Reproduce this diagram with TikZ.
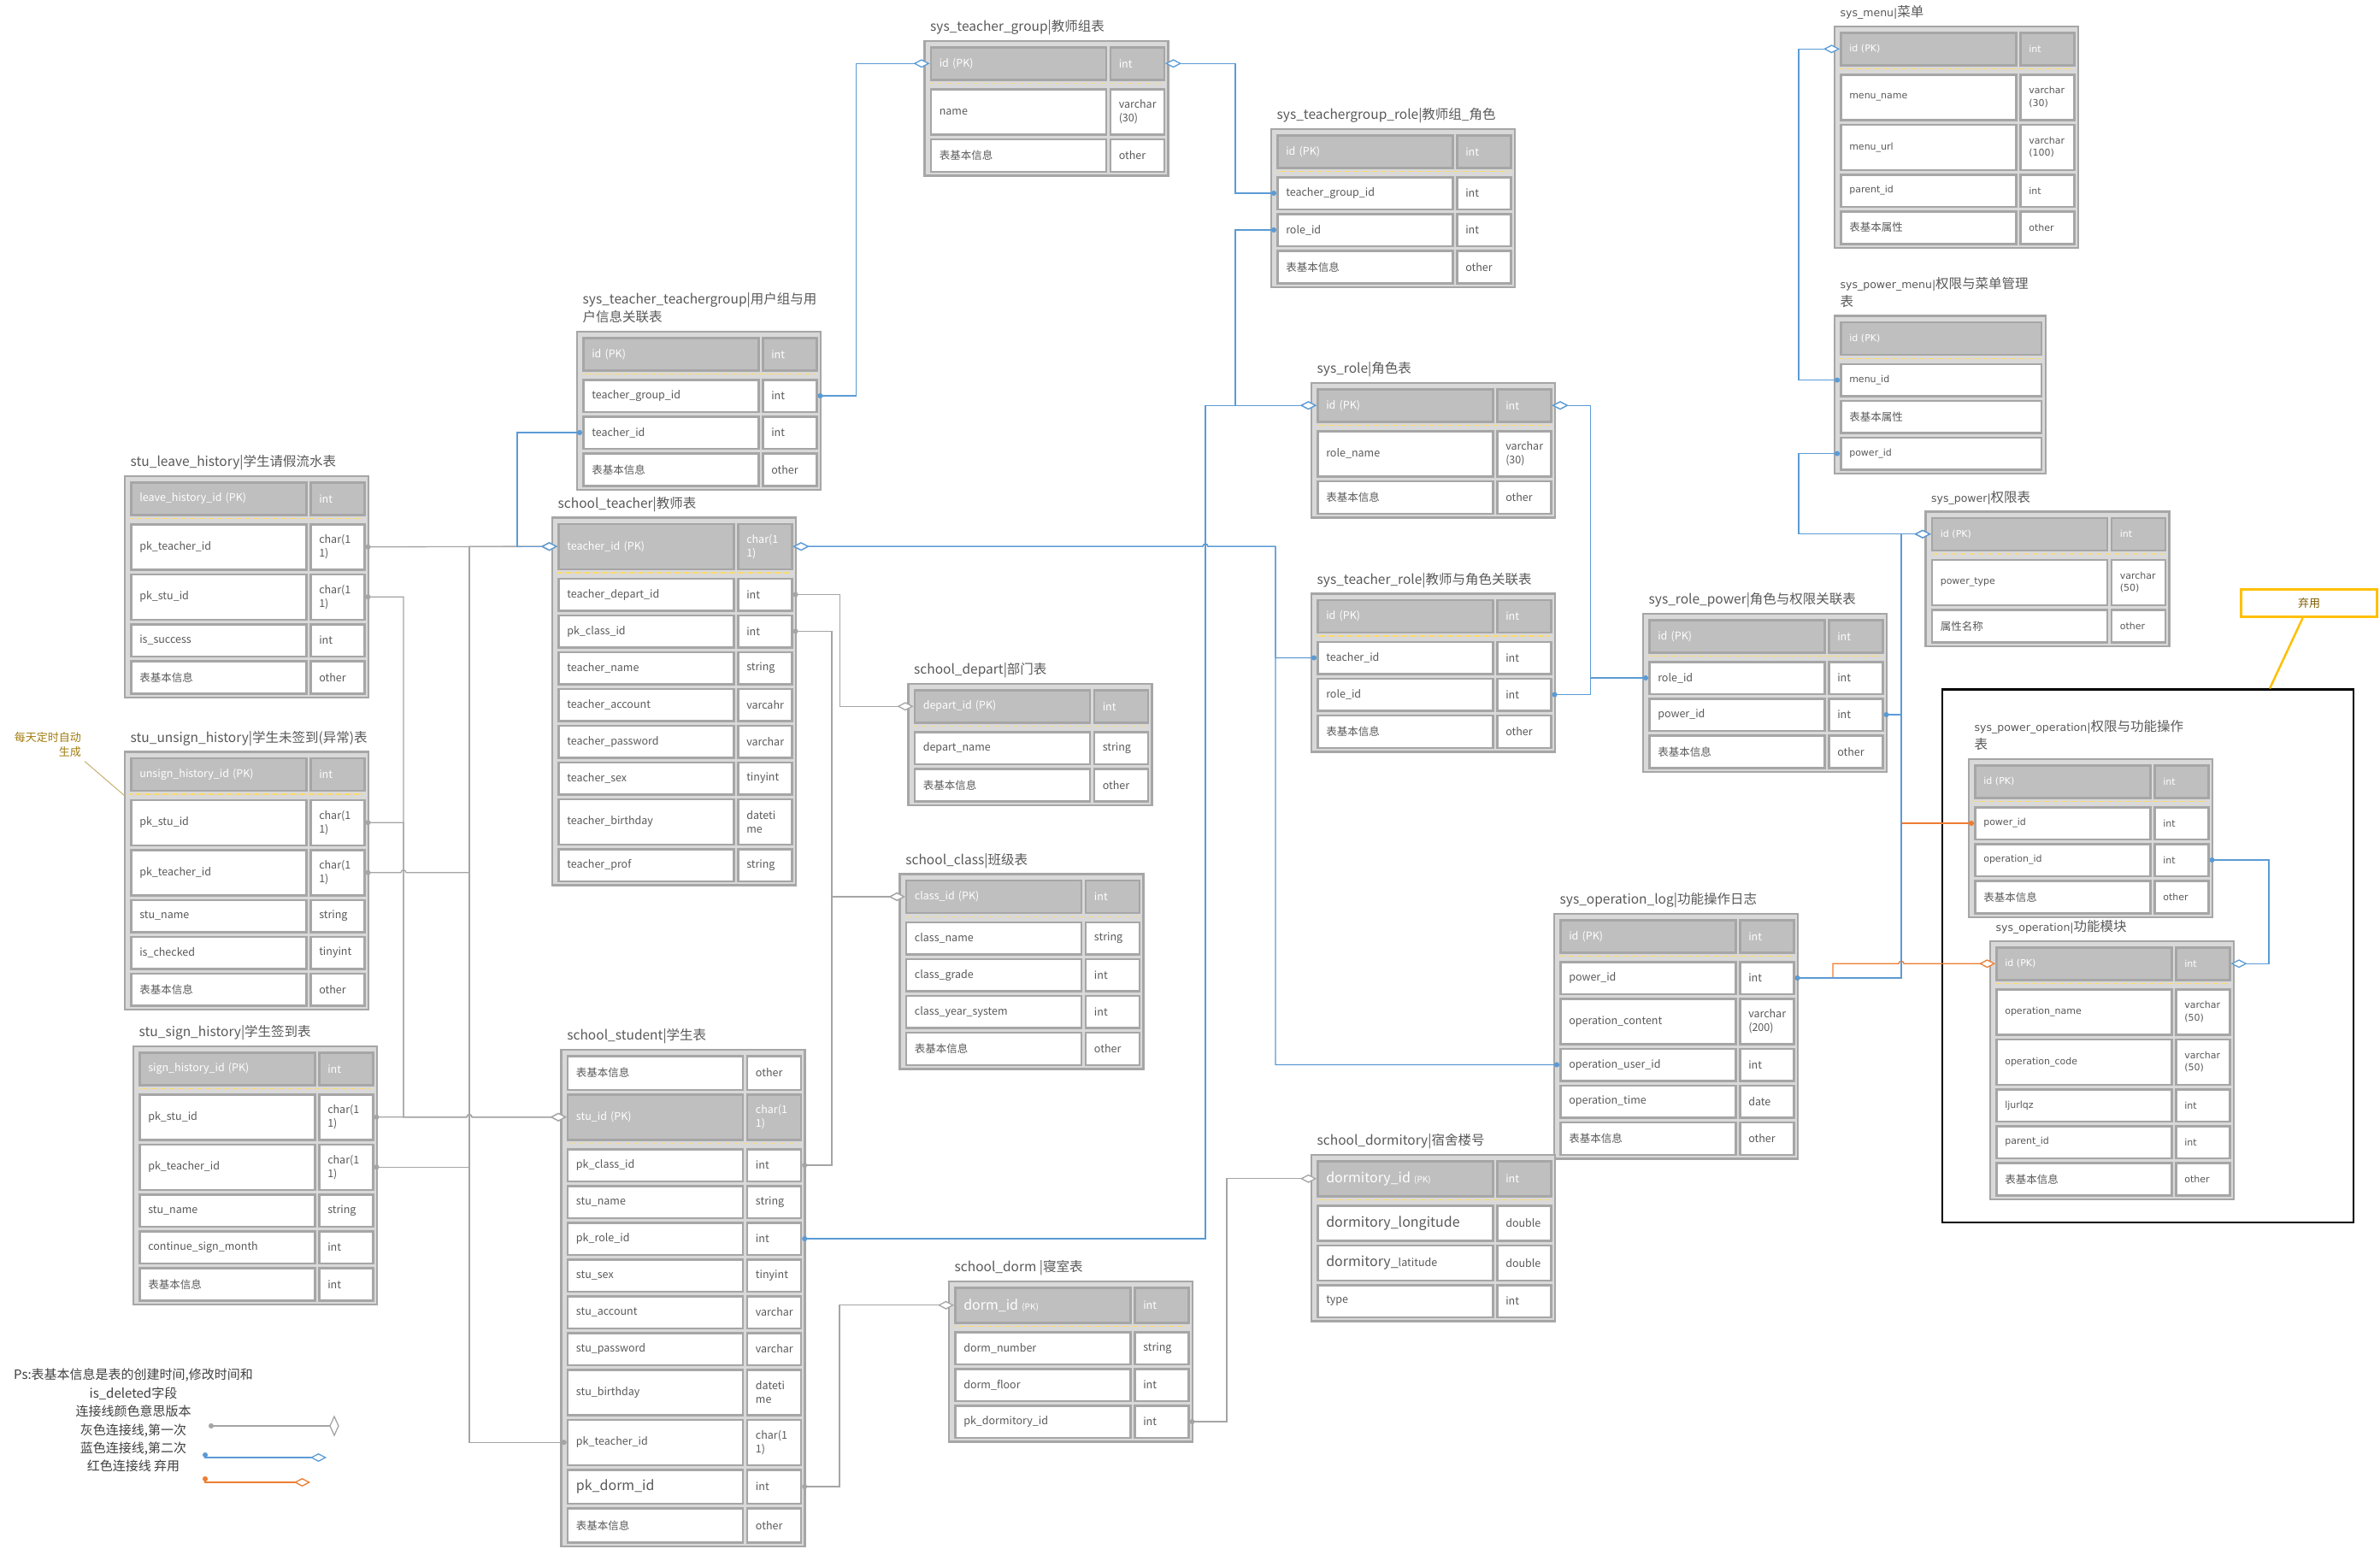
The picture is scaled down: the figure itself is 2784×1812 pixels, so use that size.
\documentclass[tikz,border=0pt]{standalone}
\usepackage{fontspec}
\setmainfont{Noto Sans CJK SC}
\newfontfamily\cjk{Noto Sans CJK SC}
\newfontfamily\wfont{DejaVu Sans}
\usetikzlibrary{arrows.meta,positioning,calc,backgrounds}

\definecolor{cellgray}{HTML}{A6A6A6}
\definecolor{boxfill}{HTML}{D9D9D9}
\definecolor{headfill}{HTML}{BFBFBF}
\definecolor{txtgray}{HTML}{595959}
\definecolor{legendgray}{HTML}{404040}
\definecolor{dotyellow}{HTML}{FFD966}
\definecolor{linkgray}{HTML}{A5A5A5}
\definecolor{linkblue}{HTML}{5B9BD5}
\definecolor{linkorange}{HTML}{ED7D31}
\definecolor{boxyellow}{HTML}{FFC000}
\definecolor{goldtext}{HTML}{7F6000}
\definecolor{notegold}{HTML}{A07C10}

% latin in the wide (second) font, chinese back in the cjk font
\newcommand{\wl}[1]{{\wfont\fontsize{12.5pt}{21pt}\selectfont #1}}
\newcommand{\zh}[1]{{\cjk\fontsize{12.5pt}{16pt}\selectfont #1}}
\newcommand{\bigtxt}[1]{{\fontsize{16pt}{18pt}\selectfont #1}}
\newcommand{\pktxt}[1]{{\fontsize{10pt}{12pt}\selectfont #1}}

\tikzset{
  fkdot/.tip={Circle[length=6pt]},
  pkdia/.tip={Diamond[length=19pt,width=10pt,fill=white]},
  tablebox/.style={draw=cellgray, line width=2.5pt, fill=boxfill},
  tabletitle/.style={anchor=south west, inner sep=0pt, text depth=0pt, align=left, text=txtgray, font=\fontsize{15.5pt}{21pt}\selectfont},
  plainrow/.style={rectangle, anchor=north west, draw=cellgray, line width=2.5pt, fill=white, text=txtgray, align=left, inner xsep=10pt, inner ysep=0pt},
  keyrow/.style={plainrow, fill=headfill, text=white},
  narrowtext/.style={font=\fontsize{12.5pt}{16pt}\selectfont},
  widetext/.style={font=\wfont\fontsize{11pt}{14.5pt}\selectfont},
  keyline/.style={draw=dotyellow, line width=1.2pt, dash pattern=on 1.5pt off 1.5pt},
  link/.style={line width=1.3pt},
  graylink/.style={link, draw=linkgray},
  bluelink/.style={link, draw=linkblue},
  redlink/.style={link, draw=linkorange},
  notetext/.style={anchor=north east, align=right, inner sep=0pt, text=notegold, font=\fontsize{13pt}{17pt}\selectfont},
  legendtext/.style={anchor=north, align=center, inner sep=0pt, text=legendgray, font=\fontsize{15pt}{21.4pt}\selectfont}
}

% #1 name, #2 top left corner, #3 title, #4 text style, #5 key row, #6 rows field/type/height
\newcommand{\ertable}[6]{%
  \begin{scope}[shift={#2}]
    \node[tabletitle] (#1-title) at (6.5,-11) {#3};
    \gdef\rowy{6}
    \foreach \f/\t/\h [count=\i] in {#6} {
      \ifnum\i=#5 \def\rowstyle{keyrow}\else\def\rowstyle{plainrow}\fi
      \node[\rowstyle, #4, text width=185pt, minimum height=\h] (#1-n\i) at (6,\rowy) {\f};
      \node[\rowstyle, #4, text width=43pt, minimum height=\h] (#1-t\i) at (216,\rowy) {\t};
      \ifnum\i=#5
        \draw[keyline] (6,\rowy+\h+5.5) -- (279,\rowy+\h+5.5);
        \pgfmathsetmacro\nexty{\rowy+\h+11}
      \else
        \pgfmathsetmacro\nexty{\rowy+\h+5.5}
      \fi
      \xdef\rowy{\nexty}
    }
    \begin{pgfonlayer}{background}
      \draw[tablebox] (0,0) rectangle (285,\rowy+0.5);
    \end{pgfonlayer}
  \end{scope}}

\begin{document}
\begin{tikzpicture}[x=1pt, y=-1pt]
\begin{pgfonlayer}{background}
  \fill[white] (0,0) rectangle (2784,1812);
\end{pgfonlayer}
\useasboundingbox (0,0) rectangle (2784,1812);

% student side
\ertable{leave}{(146,557)}{stu\_leave\_history|学生请假流水表}{narrowtext}{1}{
  leave\_history\_id (PK)/int/38,
  pk\_teacher\_id/char(1\\1)/53,
  pk\_stu\_id/char(1\\1)/53,
  is\_success/int/37.5,
  表基本信息/other/38}
\ertable{unsign}{(146,879.5)}{stu\_unsign\_history|学生未签到(异常)表}{narrowtext}{1}{
  unsign\_history\_id (PK)/int/38,
  pk\_stu\_id/char(1\\1)/53,
  pk\_teacher\_id/char(1\\1)/53,
  stu\_name/string/37.5,
  is\_checked/tinyint/37.5,
  表基本信息/other/37.5}
\ertable{sign}{(156,1224)}{stu\_sign\_history|学生签到表}{narrowtext}{1}{
  sign\_history\_id (PK)/int/38,
  pk\_stu\_id/char(1\\1)/53,
  pk\_teacher\_id/char(1\\1)/53,
  stu\_name/string/37.5,
  continue\_sign\_month/int/37.5,
  表基本信息/int/38}
\ertable{student}{(656.7,1228)}{school\_student|学生表}{narrowtext}{2}{
  表基本信息/other/39.5,
  stu\_id (PK)/char(1\\1)/53,
  pk\_class\_id/int/37.5,
  stu\_name/string/37.5,
  pk\_role\_id/int/37.5,
  stu\_sex/tinyint/37.5,
  stu\_account/varchar/37.5,
  stu\_password/varchar/37.5,
  stu\_birthday/dateti\\me/53,
  pk\_teacher\_id/char(1\\1)/53,
  \bigtxt{pk\_dorm\_id}/int/39.5,
  表基本信息/other/40}

% teacher side
\ertable{ttg}{(675,388)}{sys\_teacher\_teachergroup|用户组与用\\户信息关联表}{narrowtext}{1}{
  id (PK)/int/38,
  teacher\_group\_id/int/37.5,
  teacher\_id/int/37.5,
  表基本信息/other/38}
\ertable{teacher}{(646,605.5)}{school\_teacher|教师表}{narrowtext}{1}{
  teacher\_id (PK)/char(1\\1)/53,
  teacher\_depart\_id/int/37.5,
  pk\_class\_id/int/37.5,
  teacher\_name/string/37.5,
  teacher\_account/varcahr/37.5,
  teacher\_password/varchar/37.5,
  teacher\_sex/tinyint/37.5,
  teacher\_birthday/dateti\\me/53,
  teacher\_prof/string/37.5}
\ertable{tgroup}{(1081.5,48)}{sys\_teacher\_group|教师组表}{narrowtext}{1}{
  id (PK)/int/38,
  name/varchar\\(30)/53,
  表基本信息/other/38}
\ertable{tgrole}{(1487,151)}{sys\_teachergroup\_role|教师组\_角色}{narrowtext}{1}{
  id (PK)/int/38,
  teacher\_group\_id/int/37.5,
  role\_id/int/37.5,
  表基本信息/other/38}
\ertable{depart}{(1062.5,800)}{school\_depart|部门表}{narrowtext}{1}{
  depart\_id (PK)/int/38,
  depart\_name/string/37.5,
  表基本信息/other/38}
\ertable{class}{(1052.7,1022.7)}{school\_class|班级表}{narrowtext}{1}{
  class\_id (PK)/int/38,
  class\_name/string/37.5,
  class\_grade/int/37.5,
  class\_year\_system/int/37.5,
  表基本信息/other/38}
\ertable{dorm}{(1110,1499)}{school\_dorm |寝室表}{narrowtext}{1}{
  \bigtxt{dorm\_id} \pktxt{(PK)}/int/41,
  dorm\_number/string/37.5,
  dorm\_floor/int/37.5,
  pk\_dormitory\_id/int/37.5}

% role side
\ertable{role}{(1534,448)}{sys\_role|角色表}{narrowtext}{1}{
  id (PK)/int/38,
  role\_name/varchar\\(30)/53,
  表基本信息/other/38}
\ertable{trole}{(1534,694.5)}{sys\_teacher\_role|教师与角色关联表}{narrowtext}{1}{
  id (PK)/int/38,
  teacher\_id/int/37.5,
  role\_id/int/37.5,
  表基本信息/other/38}
\ertable{rpower}{(1922,718)}{sys\_role\_power|角色与权限关联表}{narrowtext}{1}{
  id (PK)/int/38,
  role\_id/int/37.5,
  power\_id/int/37.5,
  表基本信息/other/38}
\ertable{oplog}{(1818,1069)}{sys\_operation\_log|功能操作日志}{narrowtext}{1}{
  id (PK)/int/38,
  power\_id/int/37.5,
  operation\_content/varchar\\(200)/53,
  operation\_user\_id/int/37.5,
  operation\_time/date/37.5,
  表基本信息/other/38}
\ertable{dormitory}{(1534,1351)}{school\_dormitory|宿舍楼号}{narrowtext}{1}{
  \bigtxt{dormitory\_id} \pktxt{(PK)}/int/41,
  \bigtxt{dormitory\_longitude}/double/41,
  \bigtxt{dormitory\_}latitude/double/41,
  type/int/37.5}

% menu and power side
\ertable{menu}{(2146,31)}{\wl{sys\_menu|}菜单}{widetext}{1}{
  id (PK)/int/38,
  menu\_name/varchar\\(30)/53,
  menu\_url/varchar\\(100)/53,
  parent\_id/int/37.5,
  \zh{表基本属性}/other/38}
\begin{scope}[shift={(2146,369.6)}]
  \node[tabletitle] (pmenu-title) at (6.5,-11) {\wl{sys\_power\_menu|}权限与菜单管理\\表};
  \node[keyrow, widetext, text width=214.5pt, minimum height=38] (pmenu-n1) at (6,6) {id (PK)};
  \draw[keyline] (6,49.5) -- (241,49.5);
  \foreach \f/\ry [count=\i from 2] in {menu\_id/55, \zh{表基本属性}/98, power\_id/141}
    \node[plainrow, widetext, text width=214.5pt, minimum height=37.5] (pmenu-n\i) at (6,\ry) {\f};
  \begin{pgfonlayer}{background}
    \draw[tablebox] (0,0) rectangle (247,184.5);
  \end{pgfonlayer}
\end{scope}
\ertable{power}{(2252.5,598.5)}{\wl{sys\_power|}权限表}{widetext}{1}{
  id (PK)/int/38,
  power\_type/varchar\\(50)/53,
  \zh{属性名称}/other/38}
\ertable{pop}{(2303,888)}{\wl{sys\_power\_operation|}权限与功能操作\\表}{widetext}{1}{
  id (PK)/int/38,
  power\_id/int/37.5,
  operation\_id/int/37.5,
  \zh{表基本信息}/other/38}
\ertable{oper}{(2328,1101)}{\wl{sys\_operation|}功能模块}{widetext}{1}{
  id (PK)/int/38,
  operation\_name/varchar\\(50)/53,
  operation\_code/varchar\\(50)/53,
  ljurlqz/int/37.5,
  parent\_id/int/37.5,
  \zh{表基本信息}/other/38}

% abandoned part
\node[draw=black, line width=2.2pt, minimum width=481, minimum height=623.6, anchor=north west, inner sep=0pt] (deprecated) at (2271,805.4) {};
\node[draw=boxyellow, line width=3pt, minimum width=159, minimum height=32, text=goldtext, font=\fontsize{13pt}{15pt}\selectfont] (abandon) at (2701,705.5) {弃用};
\draw[boxyellow, line width=2.5pt] ($(abandon.south)+(-7.5,0)$) -- ($(deprecated.north west)+(384,0)$);

% trunk columns of the connectors
\coordinate (stuX) at (472,0);
\coordinate (teaX) at (549,0);
\coordinate (ttgX) at (605,0);
\coordinate (clsX) at (973,0);
\coordinate (dormX) at (982,0);
\coordinate (depX) at (982.5,0);
\coordinate (tgX) at (1001.5,0);
\coordinate (roleX) at (1410,0);
\coordinate (dtyX) at (1435,0);
\coordinate (tgrX) at (1445,0);
\coordinate (trX) at (1492,0);
\coordinate (rpX) at (1860.5,0);
\coordinate (menuX) at (2104,0);
\coordinate (orX) at (2144,0);
\coordinate (pwX) at (2224,0);
\coordinate (opX) at (2654,0);

% gray: first version
\draw[graylink, fkdot-pkdia] (leave-t2.east) -- (teacher-n1.west);
\draw[graylink, fkdot-pkdia] (unsign-t3.east) -- ($(stuX |- unsign-t3.east)+(-3,0)$) arc[start angle=180, end angle=0, radius=3pt] -| (teaX |- teacher-n1.west) -- (teacher-n1.west);
\draw[graylink, fkdot-pkdia] (sign-t3.east) -| (teaX |- teacher-n1.west) -- (teacher-n1.west);
\draw[graylink, fkdot-pkdia] (student-n10.west) -| (teaX |- teacher-n1.west) -- (teacher-n1.west);
\draw[graylink, fkdot-pkdia] (leave-t3.east) -| (stuX |- student-n2.west) -- ($(teaX |- student-n2.west)+(-3,0)$) arc[start angle=180, end angle=0, radius=3pt] -- (student-n2.west);
\draw[graylink, fkdot-pkdia] (unsign-t2.east) -| (stuX |- student-n2.west) -- ($(teaX |- student-n2.west)+(-3,0)$) arc[start angle=180, end angle=0, radius=3pt] -- (student-n2.west);
\draw[graylink, fkdot-pkdia] (sign-t2.east) -- ($(teaX |- student-n2.west)+(-3,0)$) arc[start angle=180, end angle=0, radius=3pt] -- (student-n2.west);
\draw[graylink, fkdot-pkdia] (teacher-t2.east) -| (depX |- depart-n1.west) -- (depart-n1.west);
\draw[graylink, fkdot-pkdia] (teacher-t3.east) -| (clsX |- class-n1.west) -- (class-n1.west);
\draw[graylink, fkdot-pkdia] (student-t3.east) -| (clsX |- class-n1.west) -- (class-n1.west);
\draw[graylink, fkdot-pkdia] (student-t11.east) -| (dormX |- dorm-n1.west) -- (dorm-n1.west);
\draw[graylink, fkdot-pkdia] (dorm-t4.east) -| (dtyX |- dormitory-n1.west) -- (dormitory-n1.west);

% orange: abandoned
\draw[redlink, fkdot-pkdia] (pop-n2.west) -| (pwX |- power-n1.west) -- (power-n1.west);
\draw[redlink, fkdot-pkdia] (oplog-t2.east) -- (orX |- oplog-t2.east) -- (orX |- oper-n1.west) -- ($(pwX |- oper-n1.west)+(-3,0)$) arc[start angle=180, end angle=0, radius=3pt] -- (oper-n1.west);

% blue: second version
\draw[bluelink, fkdot-pkdia] (ttg-n3.west) -| (ttgX |- teacher-n1.west) -- (teacher-n1.west);
\draw[bluelink, fkdot-pkdia] (ttg-t2.east) -| (tgX |- tgroup-n1.west) -- (tgroup-n1.west);
\draw[bluelink, fkdot-pkdia] (tgrole-n2.west) -| (tgrX |- tgroup-t1.east) -- (tgroup-t1.east);
\draw[bluelink, fkdot-pkdia] (tgrole-n3.west) -| (tgrX |- role-n1.west) -- (role-n1.west);
\draw[bluelink, fkdot-pkdia] (student-t5.east) -| (roleX |- role-n1.west) -- (role-n1.west);
\draw[bluelink, fkdot-pkdia] (trole-n2.west) -| (trX |- teacher-t1.east) -- ($(roleX |- teacher-t1.east)+(3,0)$) arc[start angle=0, end angle=180, radius=3pt] -- (teacher-t1.east);
\draw[bluelink, fkdot-pkdia] (oplog-n4.west) -| (trX |- teacher-t1.east) -- ($(roleX |- teacher-t1.east)+(3,0)$) arc[start angle=0, end angle=180, radius=3pt] -- (teacher-t1.east);
\draw[bluelink, fkdot-pkdia] (trole-t3.east) -| (rpX |- role-t1.east) -- (role-t1.east);
\draw[bluelink, fkdot-pkdia] (rpower-n2.west) -| (rpX |- role-t1.east) -- (role-t1.east);
\draw[bluelink, fkdot-pkdia] (rpower-t3.east) -| (pwX |- power-n1.west) -- (power-n1.west);
\draw[bluelink, fkdot-pkdia] (oplog-t2.east) -| (pwX |- power-n1.west) -- (power-n1.west);
\draw[bluelink, fkdot-pkdia] (pmenu-n2.west) -| (menuX |- menu-n1.west) -- (menu-n1.west);
\draw[bluelink, fkdot-pkdia] (pmenu-n4.west) -| (menuX |- power-n1.west) -- (power-n1.west);
\draw[bluelink, fkdot-pkdia] (pop-t3.east) -| (opX |- oper-t1.east) -- (oper-t1.east);

% note and legend
\node[notetext] (note) at (95,856) {每天定时自动\\生成};
\draw[notegold!60, line width=1pt] ($(note.south east)+(4,5)$) -- ($(unsign-n1.south west)+(-6,5)$);
\node[legendtext] (legend) at (156,1601) {Ps:表基本信息是表的创建时间,修改时间和\\is\_deleted字段\\连接线颜色意思版本\\灰色连接线,第一次\\蓝色连接线,第二次\\红色连接线 弃用};
\coordinate (lgA1) at (244,1668);
\coordinate (lgB1) at (391,1668);
\draw[graylink, fkdot-] (lgA1) -- (lgB1);
\draw[graylink, fill=white] (lgB1) ++(0,-11) -- ++(5,11) -- ++(-5,11) -- ++(-5,-11) -- cycle;
\coordinate (lgA2) at (240,1699);
\coordinate (lgB2) at (382,1705);
\draw[bluelink, fkdot-pkdia] (lgA2) |- (lgB2);
\coordinate (lgA3) at (240,1727);
\coordinate (lgB3) at (363,1734);
\draw[redlink, fkdot-pkdia] (lgA3) |- (lgB3);
\end{tikzpicture}
\end{document}
